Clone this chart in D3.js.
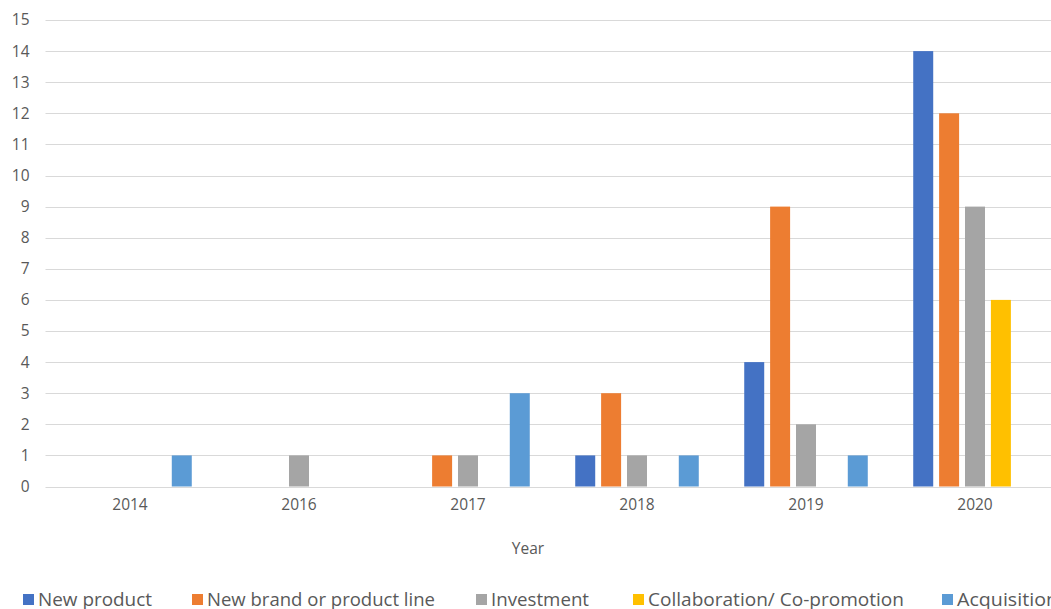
<!DOCTYPE html>
<html>
<head>
<meta charset="utf-8">
<script src="https://cdn.jsdelivr.net/npm/d3@7"></script>
<style>
  html, body { margin: 0; padding: 0; background: #fff; }
  svg { display: block; font-family: "Open Sans", "Liberation Sans", sans-serif; }
</style>
</head>
<body>
<svg id="chart" width="1051" height="609"></svg>
<script>
// Deal counts per year, one array per deal type
const years = ["2014", "2016", "2017", "2018", "2019", "2020"];
const seriesNames = ["New product", "New brand or product line", "Investment", "Collaboration/ Co-promotion", "Acquisition"];
const newProduct     = [0, 0, 0, 1, 4, 14];
const newBrand       = [0, 0, 1, 3, 9, 12];
const investment     = [0, 1, 1, 1, 2, 9];
const collaboration  = [0, 0, 0, 0, 0, 6];
const acquisition    = [1, 0, 3, 1, 1, 0];
const yTicks = d3.range(0, 16);
const colors = ["#4472C4", "#ED7D31", "#A5A5A5", "#FFC000", "#5B9BD5"];

const seriesValues = [newProduct, newBrand, investment, collaboration, acquisition];

const svg = d3.select("#chart");
const plot = { left: 45.5, right: 1059.5, top: 20, bottom: 486.5 };

const x0 = d3.scaleBand().domain(years).range([plot.left, plot.right])
  .paddingInner(0.269).paddingOuter(0.1345);
const x1 = d3.scaleBand().domain(seriesNames).range([0, x0.bandwidth()])
  .paddingInner(0.228).paddingOuter(0);
const y = d3.scaleLinear().domain([0, 15]).range([plot.bottom, plot.top]);
const color = d3.scaleOrdinal().domain(seriesNames).range(colors);

// Horizontal gridlines
svg.append("g")
  .selectAll("line")
  .data(yTicks)
  .join("line")
  .attr("x1", plot.left).attr("x2", 1051)
  .attr("y1", d => Math.round(y(d)) + 0.5).attr("y2", d => Math.round(y(d)) + 0.5)
  .attr("stroke", "#d9d9d9").attr("stroke-width", 1);

// Y axis labels
const yAxis = svg.append("g")
  .attr("transform", `translate(${plot.left - 16},0)`)
  .call(d3.axisLeft(y).tickValues(yTicks).tickSize(0).tickPadding(0));
yAxis.select(".domain").remove();
yAxis.selectAll("text")
  .attr("fill", "#595959").attr("font-size", 15.5)
  .attr("font-family", "'Open Sans', sans-serif");

// X axis labels
const xAxis = svg.append("g")
  .attr("transform", `translate(0,${plot.bottom + 12})`)
  .call(d3.axisBottom(x0.copy().paddingInner(0).paddingOuter(0)).tickSize(0).tickPadding(0));
xAxis.select(".domain").remove();
xAxis.selectAll("text")
  .attr("fill", "#595959").attr("font-size", 15.5)
  .attr("font-family", "'Open Sans', sans-serif");

// Bars
const rows = years.map((yr, i) => ({
  year: yr,
  values: seriesNames.map((s, j) => ({ series: s, value: seriesValues[j][i] }))
}));

svg.append("g")
  .selectAll("g")
  .data(rows)
  .join("g")
  .attr("transform", d => `translate(${x0(d.year)},0)`)
  .selectAll("rect")
  .data(d => d.values.filter(v => v.value > 0))
  .join("rect")
  .attr("x", d => x1(d.series))
  .attr("width", x1.bandwidth())
  .attr("y", d => y(d.value))
  .attr("height", d => y(0) - y(d.value))
  .attr("fill", d => color(d.series));

// Axis title
svg.append("text")
  .attr("x", 528).attr("y", 554)
  .attr("text-anchor", "middle")
  .attr("fill", "#595959").attr("font-size", 15.5)
  .text("Year");

// Legend along the bottom: marker x and text width for each entry
const legendX = [23, 192, 476, 633, 942];
const legendTextW = [114, 228, 98, 256, 101];
const legend = svg.append("g")
  .selectAll("g")
  .data(seriesNames)
  .join("g")
  .attr("transform", (d, i) => `translate(${legendX[i]},594)`);
legend.append("rect")
  .attr("width", 11).attr("height", 11)
  .attr("fill", d => color(d));
legend.append("text")
  .attr("x", 15).attr("y", 11.5)
  .attr("fill", "#595959").attr("font-size", 17.5)
  .attr("textLength", (d, i) => legendTextW[i])
  .attr("lengthAdjust", "spacingAndGlyphs")
  .text(d => d);
</script>
</body>
</html>
